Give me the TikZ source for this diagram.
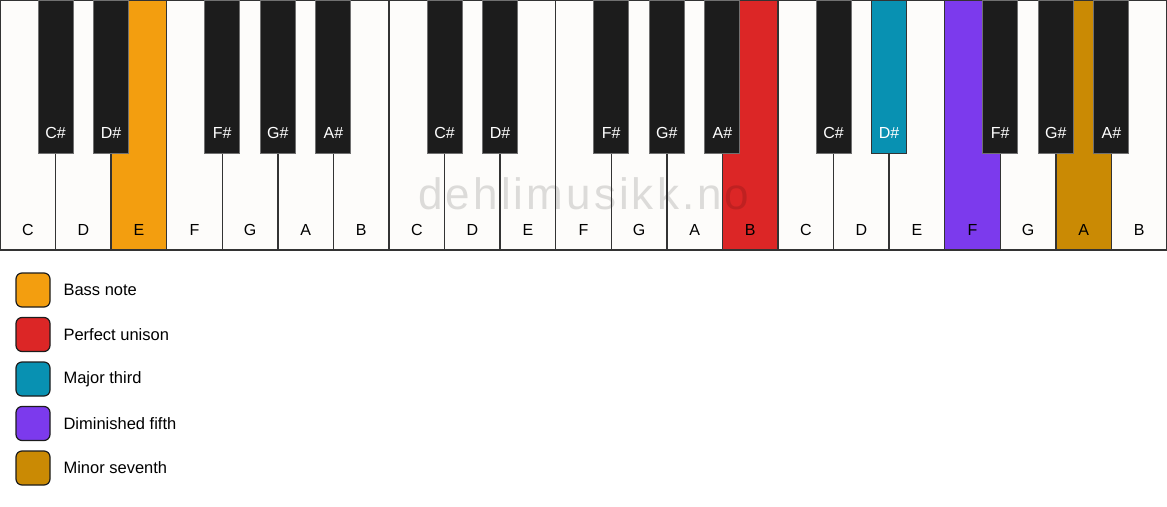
\documentclass[tikz,border=0pt]{standalone}
\usepackage{fontspec}
\setmainfont{Liberation Sans}
\usepackage{xcolor}
\definecolor{ivory}{HTML}{FDFCFA}
\definecolor{ebony}{HTML}{1C1C1C}
\definecolor{edge}{HTML}{333333}
\definecolor{bass}{HTML}{F39E0F}
\definecolor{unison}{HTML}{DC2626}
\definecolor{third}{HTML}{0891B2}
\definecolor{fifth}{HTML}{7C3AED}
\definecolor{seventh}{HTML}{CA8A04}
\def\kw{55.571}

\begin{document}
\begin{tikzpicture}[x=1pt,y=-1pt]
	\useasboundingbox (0,0) rectangle (1167,506);
	%
	% white keys
	\foreach \i in {0,...,20}
	\fill[ivory] (\i*\kw,0) rectangle (\i*\kw+\kw,250);
	% coloured white keys
	\fill[bass] (2*\kw,0) rectangle (3*\kw,250);
	\fill[unison] (13*\kw,0) rectangle (14*\kw,250);
	\fill[fifth] (17*\kw,0) rectangle (18*\kw,250);
	\fill[seventh] (19*\kw,0) rectangle (20*\kw,250);
	% watermark
	\node[anchor=base, text=black, opacity=0.13, font=\fontsize{44}{44}\selectfont\addfontfeature{LetterSpace=7}] (mark) at (584,209) {dehlimusikk.no};
	\foreach \i in {0,...,20}
	\draw[edge, line width=1.5pt] (\i*\kw,0) rectangle (\i*\kw+\kw,250);
	%
	\foreach \n [count=\i from 0] in {C,D,E,F,G,A,B,C,D,E,F,G,A,B,C,D,E,F,G,A,B}
	\node[font=\fontsize{16}{16}\selectfont] (w\i) at (\i*\kw+\kw/2,230) {\n};
	%
	% black keys
	\foreach \b/\n in {1/C\#,2/D\#,4/F\#,5/G\#,6/A\#,8/C\#,9/D\#,11/F\#,12/G\#,13/A\#,15/C\#,16/D\#,18/F\#,19/G\#,20/A\#}
	{
		\fill[ebony, draw=edge!70, line width=1pt] (\b*\kw-17.5,0) rectangle (\b*\kw+17.5,153);
		\node[text=white, font=\fontsize{16}{16}\selectfont] (b\b) at (\b*\kw,133) {\n};
	}
	\fill[third, draw=edge, line width=1pt] (16*\kw-17.5,0) rectangle (16*\kw+17.5,153);
	\node[text=white, font=\fontsize{16}{16}\selectfont] (b16) at (16*\kw,133) {D\#};
	%
	% legend
	\foreach \c/\t [count=\k from 0] in {bass/Bass note,unison/Perfect unison,third/Major third,fifth/Diminished fifth,seventh/Minor seventh}
	{
		\fill[\c, draw=ebony, line width=1.2pt, rounded corners=6pt] (16,273+44.5*\k) rectangle (50,307+44.5*\k);
		\node[anchor=west, font=\fontsize{16.5}{16.5}\selectfont] (l\k) at (60,290+44.5*\k) {\t};
	}
\end{tikzpicture}
\end{document}
